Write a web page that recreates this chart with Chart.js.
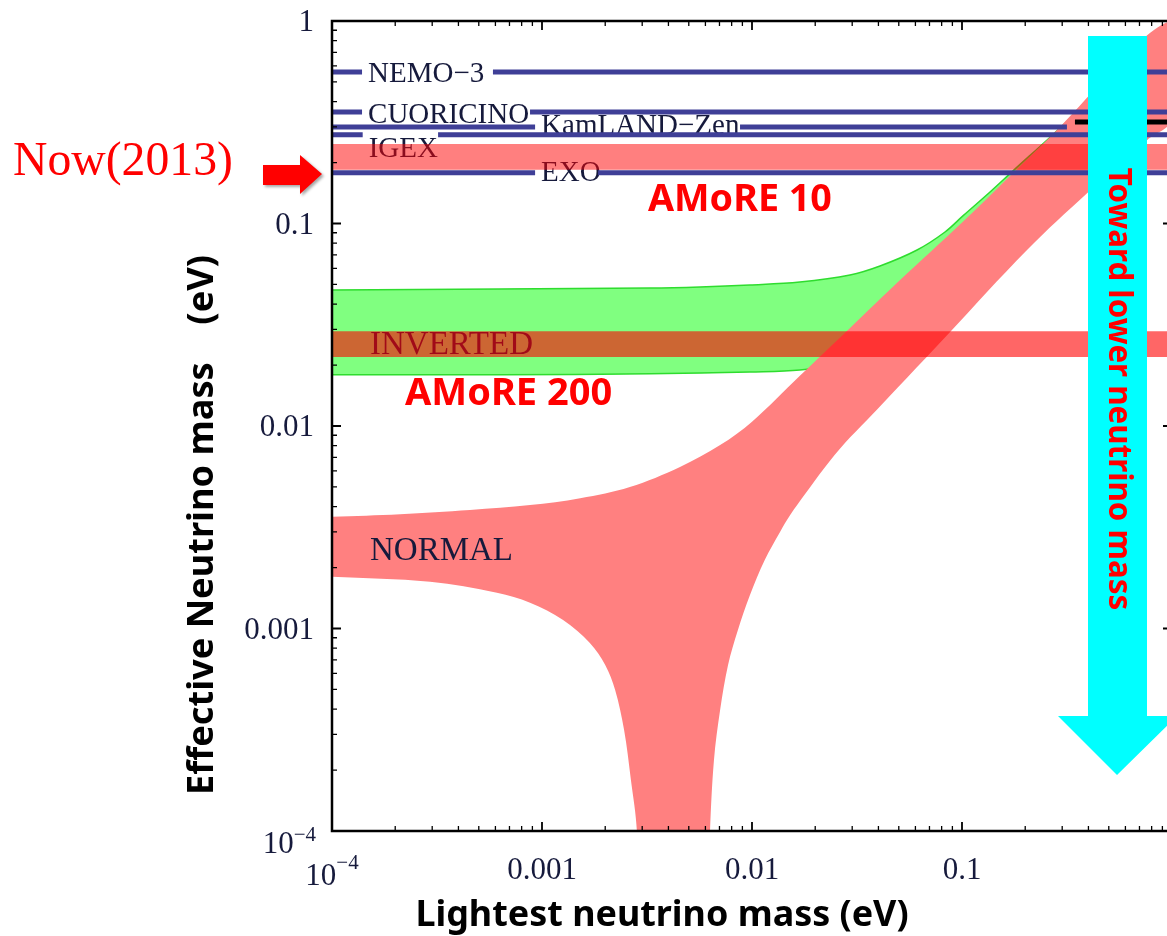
<!DOCTYPE html>
<html>
<head>
<meta charset="utf-8">
<script src="https://cdn.jsdelivr.net/npm/chart.js@4.4.1/dist/chart.umd.min.js"></script>
<style>
html,body{margin:0;padding:0;background:#fff;overflow:hidden;}
#wrap{width:1167px;height:936px;overflow:hidden;position:relative;}
canvas{display:block;}
</style>
</head>
<body>
<div id="wrap"><canvas id="c" width="1180" height="936"></canvas></div>
<script>
// axis ticks
const xTicks = [1e-4, 1e-3, 1e-2, 1e-1];
const xTickLabels = ['10^−4', '0.001', '0.01', '0.1'];
const yTicks = [1e-4, 1e-3, 1e-2, 1e-1, 1];
const yTickLabels = ['10^−4', '0.001', '0.01', '0.1', '1'];

// experimental limits on effective mass (eV)
const expNames   = ['NEMO−3', 'CUORICINO', 'KamLAND−Zen', 'IGEX', 'EXO'];
const expMass    = [0.560, 0.355, 0.300, 0.274, 0.178];
const expGapFrom = [1.39e-4, 1.39e-4, 9.27e-4, 1.40e-4, 9.27e-4];
const expGapTo   = [5.84e-4, 8.77e-4, 8.77e-3, 3.20e-4, 1.85e-3];
const expEnd     = [1, 1, 0.316, 1, 1];
const kzComboX = [0.345, 1];
const kzComboMass = 0.317;

// sensitivity bands (low, high)
const amore10  = [0.184, 0.247];
const amore200 = [0.0219, 0.0294];
const bandX = [1e-4, 1];

// normal hierarchy region outline (lightest mass, effective mass)
const normalX = [1e-4, 2.11e-4, 4.54e-4, 8.77e-4, 1.52e-3, 2.62e-3, 4.54e-3, 7.05e-3, 0.0100, 0.0169, 0.0293, 0.0507, 0.101, 0.262, 1.0,
                 1.0, 0.760, 0.394, 0.204, 0.0849, 0.0353, 0.0277, 0.0223, 0.0179, 0.0152, 0.0136, 0.0115, 0.00977, 0.00857, 0.00769, 0.00705, 0.00659, 0.00631, 0.00620,
                 0.00282, 0.00283, 0.00265, 0.00246, 0.00223, 0.00200, 0.00169, 1.26e-3, 8.77e-4, 6.10e-4, 2.93e-4, 1e-4];
const normalY = [0.00356, 0.00367, 0.00385, 0.00407, 0.00440, 0.00500, 0.00628, 0.00805, 0.0105, 0.0177, 0.0305, 0.0526, 0.102, 0.267, 1.0,
                 0.328, 0.258, 0.141, 0.0740, 0.0281, 0.0107, 0.00824, 0.00628, 0.00461, 0.00363, 0.00300, 0.00218, 0.00146, 0.000984, 0.000661, 0.000396, 0.000224, 0.000100, 0.00005,
                 0.00005, 0.000100, 0.000179, 0.000315, 0.000497, 0.000661, 0.000848, 0.00110, 0.00134, 0.00150, 0.00170, 0.00180];

// inverted hierarchy region outline
const invX = [1e-4, 6.31e-4, 3.27e-3, 5.65e-3, 9.77e-3, 0.0169, 0.0293, 0.0407, 0.0611, 0.0830, 0.101, 0.136, 0.175, 0.262, 0.454, 1.0,
              1.0, 0.262, 0.101, 0.0507, 0.0293, 0.0169, 9.77e-3, 3.27e-3, 6.31e-4, 1e-4];
const invY = [0.0470, 0.0475, 0.0480, 0.0486, 0.0497, 0.0514, 0.0557, 0.0617, 0.0740, 0.0908, 0.109, 0.143, 0.182, 0.266, 0.452, 0.99,
              0.541, 0.138, 0.0444, 0.0251, 0.0207, 0.0189, 0.0185, 0.0181, 0.0179, 0.0179];

const NORMAL_IDX = 1;
const SERIF = '"Liberation Serif", "Times New Roman", serif';
const SANS = '"Noto Sans", "Open Sans", sans-serif';
const INK = '#161a3c';

const pts = (xs, ys) => xs.map((x, i) => ({x, y: ys[i]}));
const bandPts = b => [{x:bandX[0], y:b[0]}, {x:bandX[1], y:b[0]}, {x:bandX[1], y:b[1]}, {x:bandX[0], y:b[1]}];
const limitPts = i => [
  {x:1e-4, y:expMass[i]}, {x:expGapFrom[i], y:expMass[i]}, {x:expGapFrom[i], y:null},
  {x:expGapTo[i], y:expMass[i]}, {x:expEnd[i], y:expMass[i]}
];

function fitFont(ctx, text, width, style, family){
  ctx.font = style + ' 100px ' + family;
  const w = ctx.measureText(text).width;
  return style + ' ' + (100*width/w).toFixed(1) + 'px ' + family;
}

// label like 10^−4 with superscript
function drawPow(ctx, s, x, y, align, baseDy, supDy){
  const [b, e] = s.split('^');
  ctx.font = '31px ' + SERIF;
  const wb = ctx.measureText(b).width;
  ctx.font = '21px ' + SERIF;
  const we = ctx.measureText(e).width;
  let x0 = align === 'right' ? x - wb - we : x - (wb + we)/2;
  ctx.textAlign = 'left';
  ctx.font = '31px ' + SERIF;
  ctx.fillText(b, x0, y + baseDy);
  ctx.font = '21px ' + SERIF;
  ctx.fillText(e, x0 + wb, y + supDy);
}

const decor = {
  id: 'decor',
  afterDatasetDraw(chart, args){
    if (args.index !== NORMAL_IDX) return;
    const ctx = chart.ctx, xs = chart.scales.x, ys = chart.scales.y;
    const dy = [10, 11, 7, 22, 8];
    ctx.save();
    ctx.fillStyle = INK;
    ctx.textAlign = 'left';
    ctx.font = '29px ' + SERIF;
    expNames.forEach((n, i) => {
      ctx.fillText(n, xs.getPixelForValue(expGapFrom[i]) + 6, ys.getPixelForValue(expMass[i]) + dy[i]);
    });
    ctx.font = '33px ' + SERIF;
    ctx.fillText('NORMAL', 370, 560);
    ctx.fillText('INVERTED', 370, 354);
    ctx.restore();
  },
  afterDatasetsDraw(chart){
    const ctx = chart.ctx, a = chart.chartArea, xs = chart.scales.x, ys = chart.scales.y;
    ctx.save();
    ctx.strokeStyle = '#000';
    // ticks, log decades with minor steps
    for (let d = 1e-4; d < 1.5; d *= 10){
      for (let k = 1; k <= 9; k++){
        const v = d*k;
        if (v > 1.0001) break;
        const len = k === 1 ? 9 : 5;
        ctx.lineWidth = k === 1 ? 1.8 : 1.3;
        const px = xs.getPixelForValue(v), py = ys.getPixelForValue(v);
        ctx.beginPath();
        ctx.moveTo(px, a.bottom); ctx.lineTo(px, a.bottom - len);
        ctx.moveTo(px, a.top); ctx.lineTo(px, a.top + len);
        ctx.moveTo(a.left, py); ctx.lineTo(a.left + len, py);
        ctx.moveTo(a.right, py); ctx.lineTo(a.right - len, py);
        ctx.stroke();
      }
    }
    ctx.lineWidth = 2.5;
    ctx.strokeRect(a.left, a.top, a.right - a.left, a.bottom - a.top);

    // tick labels
    ctx.fillStyle = INK;
    ctx.textBaseline = 'alphabetic';
    xTicks.forEach((v, i) => {
      const px = xs.getPixelForValue(v), s = xTickLabels[i];
      if (s.includes('^')) drawPow(ctx, s, px, a.bottom, 'center', 54, 38);
      else { ctx.font = '31px ' + SERIF; ctx.textAlign = 'center'; ctx.fillText(s, px, a.bottom + 48); }
    });
    yTicks.forEach((v, i) => {
      const py = ys.getPixelForValue(v), s = yTickLabels[i];
      if (s.includes('^')) drawPow(ctx, s, a.left - 16, py, 'right', 22, 10);
      else { ctx.font = '31px ' + SERIF; ctx.textAlign = 'right'; ctx.fillText(s, a.left - 18, py + 10); }
    });

    // axis titles
    ctx.fillStyle = '#000';
    ctx.textAlign = 'center';
    const xt = 'Lightest neutrino mass (eV)';
    ctx.font = fitFont(ctx, xt, 493, 'bold', SANS);
    ctx.fillText(xt, 662, 926);
    const yt = 'Effective Neutrino mass    (eV)';
    ctx.font = fitFont(ctx, yt, 540, 'bold', SANS);
    ctx.translate(213, 525);
    ctx.rotate(-Math.PI/2);
    ctx.fillText(yt, 0, 0);
    ctx.restore();
  },
  afterDraw(chart){
    const ctx = chart.ctx;
    ctx.save();
    // cyan arrow
    ctx.fillStyle = '#00ffff';
    ctx.beginPath();
    [[1088,36],[1147,36],[1147,716],[1177,716],[1117,775],[1058,716],[1088,716]].forEach((p, i) => i ? ctx.lineTo(p[0], p[1]) : ctx.moveTo(p[0], p[1]));
    ctx.closePath(); ctx.fill();

    ctx.fillStyle = '#ff0000';
    const tt = 'Toward lower neutrino mass';
    ctx.save();
    ctx.font = fitFont(ctx, tt, 442, 'bold', SANS);
    ctx.translate(1118, 389);
    ctx.rotate(Math.PI/2);
    ctx.textAlign = 'center';
    ctx.textBaseline = 'middle';
    ctx.fillText(tt, 0, 0);
    ctx.restore();

    ctx.textAlign = 'left';
    ctx.font = fitFont(ctx, 'AMoRE 10', 184, 'bold', SANS);
    ctx.fillText('AMoRE 10', 648, 211);
    ctx.font = fitFont(ctx, 'AMoRE 200', 207, 'bold', SANS);
    ctx.fillText('AMoRE 200', 405, 405);

    ctx.font = fitFont(ctx, 'Now(2013)', 220, '', SERIF);
    ctx.fillText('Now(2013)', 13, 175);

    // red arrow
    ctx.shadowColor = 'rgba(0,0,0,0.35)';
    ctx.shadowBlur = 3; ctx.shadowOffsetX = 2; ctx.shadowOffsetY = 2;
    ctx.beginPath();
    [[263,165],[300,165],[300,155],[322,174],[300,194],[300,185],[263,185]].forEach((p, i) => i ? ctx.lineTo(p[0], p[1]) : ctx.moveTo(p[0], p[1]));
    ctx.closePath(); ctx.fill();
    ctx.restore();
  }
};

const bandStyle = {pointRadius:0, borderWidth:0, fill:'shape'};
const datasets = [
  {label:'Inverted', data:pts(invX, invY), ...bandStyle, backgroundColor:'#80ff80', borderColor:'#2fdc2f', borderWidth:1.5, tension:0.35, order:10},
  {label:'Normal', data:pts(normalX, normalY), ...bandStyle, backgroundColor:'#ff8080', tension:0.35, order:9},
  {label:'AMoRE 200', data:bandPts(amore200), ...bandStyle, backgroundColor:'rgba(255,0,0,0.6)', order:8},
  {label:'AMoRE 10', data:bandPts(amore10), ...bandStyle, backgroundColor:'rgba(255,0,0,0.5)', order:7},
  ...expNames.map((n, i) => ({label:n, data:limitPts(i), borderColor:'#3f3f97', borderWidth:5, pointRadius:0, fill:false, order:1})),
  {label:'KamLAND−Zen (combined)', data:[{x:kzComboX[0], y:kzComboMass}, {x:kzComboX[1], y:kzComboMass}], borderColor:'#000', borderWidth:5, pointRadius:0, fill:false, order:2}
];

new Chart(document.getElementById('c'), {
  type:'line',
  data:{ datasets },
  options:{
    responsive:false, animation:false, events:[],
    layout:{ padding:{ left:332, top:21, right:8, bottom:105 } },
    scales:{
      x:{ type:'logarithmic', min:1e-4, max:1, display:false },
      y:{ type:'logarithmic', min:1e-4, max:1, display:false }
    },
    plugins:{ legend:{ display:false }, tooltip:{ enabled:false }, filler:{ drawTime:'beforeDatasetDraw' } }
  },
  plugins:[decor]
});
</script>
</body>
</html>
